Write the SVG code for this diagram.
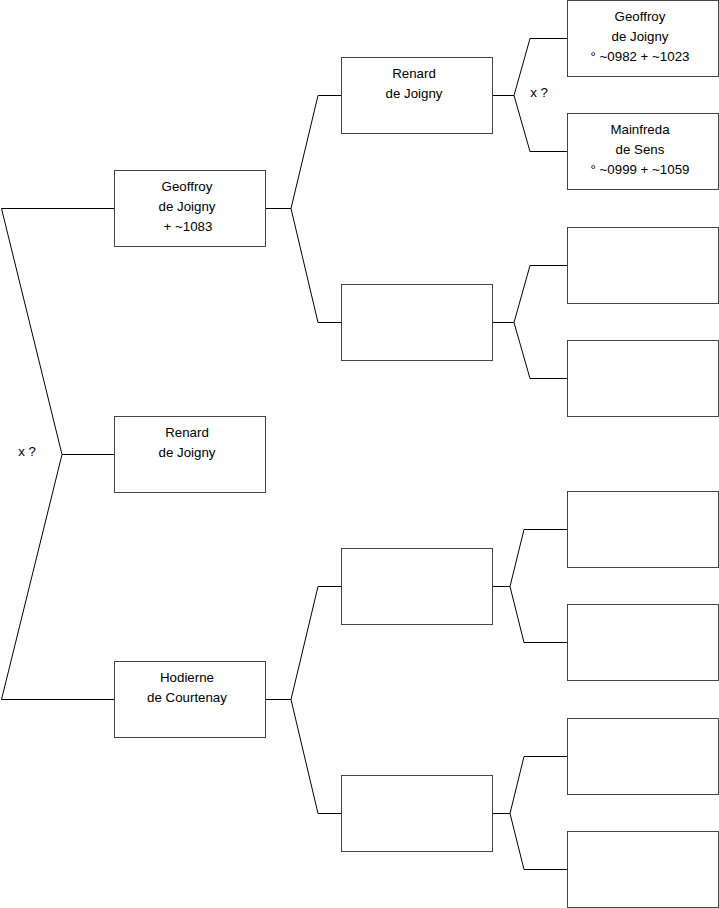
<svg xmlns="http://www.w3.org/2000/svg" width="719" height="908" viewBox="0 0 719 908">
<style>
.box{fill:#fff;stroke:#444;stroke-width:1}
.ln{fill:none;stroke:#000;stroke-width:1}
text{font-family:"Liberation Sans",Arial,sans-serif;font-size:13.3px;fill:#000;text-anchor:middle}
</style>
<rect width="719" height="908" fill="#fff"/>
<g id="connectors">
<path class="ln" d="M114,208.5H1.5L62,454.5L1.5,699.5H114M62,454.5H114"/>
<path class="ln" d="M265,208.5H291L318,95.5H341M291,208.5L318,322.5H341"/>
<path class="ln" d="M265,699.5H291L318,586.5H341M291,699.5L318,813.5H341"/>
<path class="ln" d="M492,95.5H514L530,38.5H567M514,95.5L530,151.5H567"/>
<path class="ln" d="M492,322.5H514L530,265.5H567M514,322.5L530,378.5H567"/>
<path class="ln" d="M492,586.5H510L524,529.5H567M510,586.5L524,642.5H567"/>
<path class="ln" d="M492,813.5H510L524,756.5H567M510,813.5L524,869.5H567"/>
<text x="27" y="456">x ?</text>
<text x="539" y="97">x ?</text>
</g>
<g id="n1"><rect class="box" x="114.5" y="170.5" width="151" height="76"/><text x="187" y="191">Geoffroy</text><text x="187" y="211">de Joigny</text><text x="188" y="231">+ ~1083</text></g>
<g id="n2"><rect class="box" x="114.5" y="416.5" width="151" height="76"/><text x="187" y="437">Renard</text><text x="187" y="457">de Joigny</text></g>
<g id="n3"><rect class="box" x="114.5" y="661.5" width="151" height="76"/><text x="187" y="682">Hodierne</text><text x="187" y="702">de Courtenay</text></g>
<g id="n4"><rect class="box" x="341.5" y="57.5" width="151" height="76"/><text x="414" y="78">Renard</text><text x="414" y="98">de Joigny</text></g>
<g id="n5"><rect class="box" x="341.5" y="284.5" width="151" height="76"/></g>
<g id="n6"><rect class="box" x="341.5" y="548.5" width="151" height="76"/></g>
<g id="n7"><rect class="box" x="341.5" y="775.5" width="151" height="76"/></g>
<g id="n8"><rect class="box" x="567.5" y="0.5" width="151" height="76"/><text x="640" y="21">Geoffroy</text><text x="640" y="41">de Joigny</text><text x="640" y="61">° ~0982 + ~1023</text></g>
<g id="n9"><rect class="box" x="567.5" y="113.5" width="151" height="76"/><text x="640" y="134">Mainfreda</text><text x="640" y="154">de Sens</text><text x="640" y="174">° ~0999 + ~1059</text></g>
<g id="n10"><rect class="box" x="567.5" y="227.5" width="151" height="76"/></g>
<g id="n11"><rect class="box" x="567.5" y="340.5" width="151" height="76"/></g>
<g id="n12"><rect class="box" x="567.5" y="491.5" width="151" height="76"/></g>
<g id="n13"><rect class="box" x="567.5" y="604.5" width="151" height="76"/></g>
<g id="n14"><rect class="box" x="567.5" y="718.5" width="151" height="76"/></g>
<g id="n15"><rect class="box" x="567.5" y="831.5" width="151" height="76"/></g>
</svg>
